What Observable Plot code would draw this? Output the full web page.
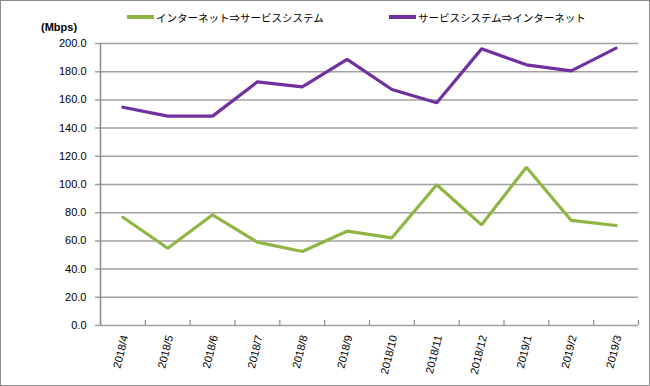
<!DOCTYPE html>
<html>
<head>
<meta charset="utf-8">
<script src="https://cdn.jsdelivr.net/npm/d3@7"></script>
<script src="https://cdn.jsdelivr.net/npm/@observablehq/plot@0.6"></script>
<style>
  body { margin: 0; background: #fff; }
  #wrap { position: relative; width: 650px; height: 386px; font-family: "Liberation Sans", Arial, sans-serif; }
  #border { position: absolute; left: 0; top: 0; width: 650px; height: 386px; box-sizing: border-box; border: 1px solid #8c8c8c; pointer-events: none; }
  #chart { position: absolute; left: 0; top: 0; }
  .leg { position: absolute; top: 9px; height: 16px; display: flex; align-items: center; font-family: "Noto Sans CJK JP", sans-serif; font-size: 10.5px; color: #000; white-space: nowrap; }
  .sw { display: inline-block; width: 27px; height: 4px; margin-right: 2px; }
  #unit { position: absolute; left: 41px; top: 21px; font-size: 11px; font-weight: bold; }
</style>
</head>
<body>
<div id="wrap">
  <div id="chart"></div>
  <div id="unit">(Mbps)</div>
  <div class="leg" id="leg1"></div>
  <div class="leg" id="leg2"></div>
  <div id="border"></div>
</div>
<script>
const months = ["2018/4","2018/5","2018/6","2018/7","2018/8","2018/9","2018/10","2018/11","2018/12","2019/1","2019/2","2019/3"];
const seriesNames = ["インターネット⇒サービスシステム", "サービスシステム⇒インターネット"];
const seriesColors = ["#8fb645", "#7030a0"];
const inetToSvc = [76.8, 54.8, 78.5, 59.1, 52.5, 66.9, 62.2, 99.8, 71.4, 112.3, 74.5, 70.9];
const svcToInet = [154.8, 148.5, 148.5, 172.8, 169.3, 188.7, 167.4, 158.0, 196.2, 184.9, 180.6, 196.7];
const yTicks = [0, 20, 40, 60, 80, 100, 120, 140, 160, 180, 200];

const rows = [];
months.forEach((m, i) => {
  rows.push({i, month: m, series: seriesNames[0], value: inetToSvc[i]});
  rows.push({i, month: m, series: seriesNames[1], value: svcToInet[i]});
});
const boundaries = d3.range(months.length + 1);

const chart = Plot.plot({
  width: 650,
  height: 386,
  marginLeft: 100,
  marginRight: 12,
  marginTop: 43,
  marginBottom: 61,
  style: {fontFamily: "'Liberation Sans', Arial, sans-serif", fontSize: "11px", color: "#000", background: "transparent"},
  x: {domain: [0, months.length], axis: null},
  y: {domain: [0, 200], axis: null},
  color: {domain: seriesNames, range: seriesColors},
  marks: [
    Plot.ruleY(yTicks, {stroke: "#a0a0a0", strokeWidth: 1.5, insetLeft: -5}),
    Plot.ruleX([0], {stroke: "#8c8c8c", strokeWidth: 1.5}),
    Plot.ruleX(boundaries, {y1: 0, y2: 3.5, stroke: "#8c8c8c", strokeWidth: 1.2}),
    Plot.axisY({ticks: yTicks, tickFormat: d => d.toFixed(1), tickSize: 0, tickPadding: 14, fontSize: 11, label: null}),
    Plot.line(rows, {x: d => d.i + 0.5, y: "value", z: "series", stroke: "series", strokeWidth: 3.2, strokeLinejoin: "miter"}),
    Plot.text(months, {x: (d, i) => i + 0.5, y: () => 0, text: d => d, rotate: -76, textAnchor: "end", dy: 10, dx: 2, fontSize: 11, fill: "#000"})
  ]
});
document.getElementById("chart").appendChild(chart);

function legend(id, name, color, left) {
  const el = document.getElementById(id);
  el.style.left = left + "px";
  const sw = document.createElement("span");
  sw.className = "sw";
  sw.style.background = color;
  el.appendChild(sw);
  el.appendChild(document.createTextNode(name));
}
legend("leg1", seriesNames[0], seriesColors[0], 127);
legend("leg2", seriesNames[1], seriesColors[1], 389);
</script>
</body>
</html>
